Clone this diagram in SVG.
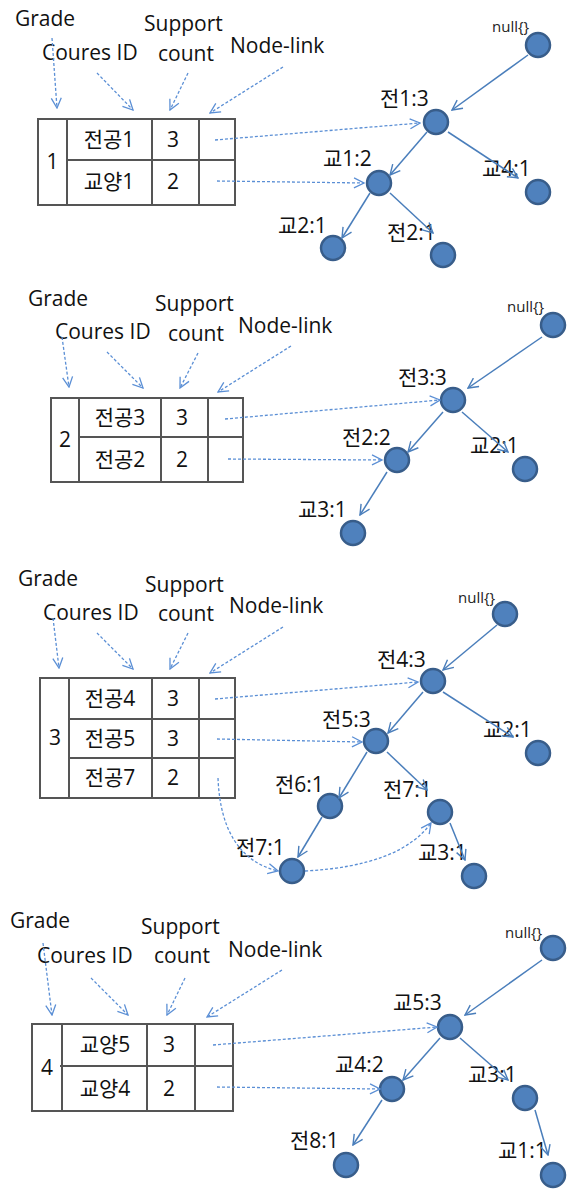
<svg xmlns="http://www.w3.org/2000/svg" width="570" height="1196" viewBox="0 0 570 1196">
<defs>
<marker id="ah" markerUnits="userSpaceOnUse" markerWidth="12" markerHeight="12" viewBox="0 0 12 12" refX="11" refY="6" orient="auto">
<path d="M1,1 L11,6 L1,11" fill="none" stroke="#4A7EBB" stroke-width="1.4"/>
</marker>
<marker id="ahd" markerUnits="userSpaceOnUse" markerWidth="12" markerHeight="12" viewBox="0 0 12 12" refX="11" refY="6" orient="auto">
<path d="M1,1 L11,6 L1,11" fill="none" stroke="#5B8FD5" stroke-width="1.3"/>
</marker>
</defs>
<style>
.lbl{font-family:"Open Sans","Noto Sans CJK KR",sans-serif;font-size:21px;fill:#111}
.cell{font-family:"Open Sans","Noto Sans CJK KR",sans-serif;font-size:21px;fill:#111;text-anchor:middle}
.nl{font-family:"Open Sans","Noto Sans CJK KR",sans-serif;font-size:15px;fill:#222}
.tbl{fill:none;stroke:#555;stroke-width:2}
.node{fill:#4F81BD;stroke:#385D8A;stroke-width:2.5}
.e{fill:none;stroke:#4A7EBB;stroke-width:1.5;marker-end:url(#ah)}
.d{fill:none;stroke:#5B8FD5;stroke-width:1.3;stroke-dasharray:3,2;marker-end:url(#ahd)}
</style>

<!-- Panel 1 -->
<g id="headers1">
<text class="lbl" x="15" y="26">Grade</text>
<text class="lbl" x="42" y="60">Coures ID</text>
<text class="lbl" x="144" y="31">Support</text>
<text class="lbl" x="158" y="61">count</text>
<text class="lbl" x="230" y="53">Node-link</text>
</g>
<g id="table1">
<rect class="tbl" x="38" y="119" width="197" height="86"/>
<line class="tbl" x1="67" y1="119" x2="67" y2="205"/>
<line class="tbl" x1="152" y1="119" x2="152" y2="205"/>
<line class="tbl" x1="199" y1="119" x2="199" y2="205"/>
<line class="tbl" x1="67" y1="160" x2="235" y2="160"/>
<text class="cell" x="52.5" y="169">1</text>
<text class="cell" x="109" y="147">전공1</text>
<text class="cell" x="173" y="147">3</text>
<text class="cell" x="109" y="189">교양1</text>
<text class="cell" x="173" y="189">2</text>
</g>
<g id="n1-null"><circle class="node" cx="538" cy="45" r="12"/><text class="nl" x="492" y="32">null{}</text></g>
<g id="n1-j13"><circle class="node" cx="436" cy="122" r="12"/><text class="lbl" x="380" y="106">전1:3</text></g>
<g id="n1-g12"><circle class="node" cx="379" cy="183" r="12"/><text class="lbl" x="323" y="166">교1:2</text></g>
<g id="n1-g41"><circle class="node" cx="538" cy="192" r="12"/><text class="lbl" x="482" y="176">교4:1</text></g>
<g id="n1-g21"><circle class="node" cx="333" cy="248" r="12"/><text class="lbl" x="278" y="233">교2:1</text></g>
<g id="n1-j21"><circle class="node" cx="443" cy="255" r="12"/><text class="lbl" x="387" y="240">전2:1</text></g>

<!-- Panel 2 -->
<g id="headers2">
<text class="lbl" x="28" y="306">Grade</text>
<text class="lbl" x="55" y="339">Coures ID</text>
<text class="lbl" x="155" y="311">Support</text>
<text class="lbl" x="168" y="341">count</text>
<text class="lbl" x="238" y="333">Node-link</text>
</g>
<g id="table2">
<rect class="tbl" x="51" y="398" width="192" height="84"/>
<line class="tbl" x1="79" y1="398" x2="79" y2="482"/>
<line class="tbl" x1="161" y1="398" x2="161" y2="482"/>
<line class="tbl" x1="208" y1="398" x2="208" y2="482"/>
<line class="tbl" x1="79" y1="437" x2="243" y2="437"/>
<text class="cell" x="65" y="447">2</text>
<text class="cell" x="120" y="425">전공3</text>
<text class="cell" x="182" y="425">3</text>
<text class="cell" x="120" y="467">전공2</text>
<text class="cell" x="182" y="467">2</text>
</g>
<g id="n2-null"><circle class="node" cx="553" cy="325" r="12"/><text class="nl" x="507" y="312">null{}</text></g>
<g id="n2-j33"><circle class="node" cx="453" cy="400" r="12"/><text class="lbl" x="398" y="385">전3:3</text></g>
<g id="n2-j22"><circle class="node" cx="397" cy="460" r="12"/><text class="lbl" x="342" y="445">전2:2</text></g>
<g id="n2-g21"><circle class="node" cx="525" cy="469" r="12"/><text class="lbl" x="470" y="453">교2:1</text></g>
<g id="n2-g31"><circle class="node" cx="353" cy="533" r="12"/><text class="lbl" x="298" y="517">교3:1</text></g>

<!-- Panel 3 -->
<g id="headers3">
<text class="lbl" x="18" y="586">Grade</text>
<text class="lbl" x="43" y="620">Coures ID</text>
<text class="lbl" x="145" y="592">Support</text>
<text class="lbl" x="158" y="621">count</text>
<text class="lbl" x="229" y="613">Node-link</text>
</g>
<g id="table3">
<rect class="tbl" x="40" y="678" width="195" height="120"/>
<line class="tbl" x1="69" y1="678" x2="69" y2="798"/>
<line class="tbl" x1="152" y1="678" x2="152" y2="798"/>
<line class="tbl" x1="199" y1="678" x2="199" y2="798"/>
<line class="tbl" x1="69" y1="719" x2="235" y2="719"/>
<line class="tbl" x1="69" y1="758" x2="235" y2="758"/>
<text class="cell" x="55" y="745">3</text>
<text class="cell" x="110" y="706">전공4</text>
<text class="cell" x="173" y="706">3</text>
<text class="cell" x="110" y="746">전공5</text>
<text class="cell" x="173" y="746">3</text>
<text class="cell" x="110" y="785">전공7</text>
<text class="cell" x="173" y="785">2</text>
</g>
<g id="n3-null"><circle class="node" cx="505" cy="614" r="12"/><text class="nl" x="458" y="603">null{}</text></g>
<g id="n3-j43"><circle class="node" cx="433" cy="681" r="12"/><text class="lbl" x="377" y="667">전4:3</text></g>
<g id="n3-j53"><circle class="node" cx="376" cy="741" r="12"/><text class="lbl" x="322" y="727">전5:3</text></g>
<g id="n3-g21"><circle class="node" cx="538" cy="753" r="12"/><text class="lbl" x="483" y="737">교2:1</text></g>
<g id="n3-j61"><circle class="node" cx="330" cy="806" r="12"/><text class="lbl" x="275" y="792">전6:1</text></g>
<g id="n3-j71a"><circle class="node" cx="440" cy="812" r="12"/><text class="lbl" x="383" y="797">전7:1</text></g>
<g id="n3-j71b"><circle class="node" cx="292" cy="871" r="12"/><text class="lbl" x="236" y="855">전7:1</text></g>
<g id="n3-g31"><circle class="node" cx="474" cy="876" r="12"/><text class="lbl" x="418" y="860">교3:1</text></g>

<!-- Panel 4 -->
<g id="headers4">
<text class="lbl" x="10" y="928">Grade</text>
<text class="lbl" x="37" y="963">Coures ID</text>
<text class="lbl" x="141" y="934">Support</text>
<text class="lbl" x="154" y="963">count</text>
<text class="lbl" x="228" y="957">Node-link</text>
</g>
<g id="table4">
<rect class="tbl" x="32" y="1024" width="201" height="87"/>
<line class="tbl" x1="62" y1="1024" x2="62" y2="1111"/>
<line class="tbl" x1="147" y1="1024" x2="147" y2="1111"/>
<line class="tbl" x1="195" y1="1024" x2="195" y2="1111"/>
<line class="tbl" x1="60" y1="1066" x2="233" y2="1066"/>
<text class="cell" x="47" y="1075">4</text>
<text class="cell" x="105" y="1052">교양5</text>
<text class="cell" x="169" y="1052">3</text>
<text class="cell" x="105" y="1096">교양4</text>
<text class="cell" x="169" y="1096">2</text>
</g>
<g id="n4-null"><circle class="node" cx="553" cy="948" r="12"/><text class="nl" x="505" y="938">null{}</text></g>
<g id="n4-g53"><circle class="node" cx="450" cy="1027" r="12"/><text class="lbl" x="393" y="1010">교5:3</text></g>
<g id="n4-g42"><circle class="node" cx="392" cy="1089" r="12"/><text class="lbl" x="335" y="1072">교4:2</text></g>
<g id="n4-g31"><circle class="node" cx="525" cy="1098" r="12"/><text class="lbl" x="468" y="1082">교3:1</text></g>
<g id="n4-j81"><circle class="node" cx="346" cy="1165" r="12"/><text class="lbl" x="290" y="1148">전8:1</text></g>
<g id="n4-g11"><circle class="node" cx="553" cy="1175" r="12"/><text class="lbl" x="498" y="1158">교1:1</text></g>

<g id="connectors">
<!-- panel 1 -->
<line class="d" x1="52" y1="38" x2="57" y2="108"/>
<line class="d" x1="97" y1="73" x2="133" y2="110"/>
<line class="d" x1="188" y1="73" x2="170" y2="110"/>
<line class="d" x1="283" y1="67" x2="210" y2="113"/>
<line class="d" x1="215" y1="140" x2="420" y2="123"/>
<line class="d" x1="217" y1="181" x2="364" y2="183"/>
<line class="e" x1="528" y1="55" x2="452" y2="110"/>
<line class="e" x1="427" y1="132" x2="390" y2="175"/>
<line class="e" x1="448" y1="132" x2="518" y2="178"/>
<line class="e" x1="370" y1="193" x2="342" y2="238"/>
<line class="e" x1="390" y1="193" x2="433" y2="233"/>
<!-- panel 2 -->
<line class="d" x1="62" y1="337" x2="69" y2="387"/>
<line class="d" x1="107" y1="352" x2="143" y2="388"/>
<line class="d" x1="198" y1="353" x2="180" y2="388"/>
<line class="d" x1="291" y1="346" x2="218" y2="392"/>
<line class="d" x1="225" y1="419" x2="440" y2="400"/>
<line class="d" x1="228" y1="459" x2="382" y2="460"/>
<line class="e" x1="542" y1="337" x2="468" y2="388"/>
<line class="e" x1="443" y1="412" x2="408" y2="452"/>
<line class="e" x1="462" y1="412" x2="508" y2="452"/>
<line class="e" x1="387" y1="472" x2="360" y2="515"/>
<!-- panel 3 -->
<line class="d" x1="53" y1="618" x2="59" y2="668"/>
<line class="d" x1="97" y1="633" x2="133" y2="669"/>
<line class="d" x1="188" y1="633" x2="170" y2="669"/>
<line class="d" x1="283" y1="627" x2="210" y2="673"/>
<line class="d" x1="215" y1="699" x2="418" y2="682"/>
<line class="d" x1="217" y1="739" x2="362" y2="742"/>
<path class="d" d="M218,778 C220,830 240,862 278,871"/>
<path class="d" d="M305,871 Q400,866 431,823"/>
<line class="e" x1="497" y1="625" x2="443" y2="670"/>
<line class="e" x1="423" y1="692" x2="388" y2="733"/>
<line class="e" x1="443" y1="692" x2="513" y2="737"/>
<line class="e" x1="367" y1="752" x2="339" y2="798"/>
<line class="e" x1="387" y1="752" x2="427" y2="790"/>
<line class="e" x1="322" y1="817" x2="298" y2="857"/>
<line class="e" x1="450" y1="823" x2="465" y2="860"/>
<!-- panel 4 -->
<line class="d" x1="43" y1="943" x2="52" y2="1015"/>
<line class="d" x1="91" y1="978" x2="128" y2="1015"/>
<line class="d" x1="185" y1="978" x2="167" y2="1015"/>
<line class="d" x1="282" y1="970" x2="207" y2="1017"/>
<line class="d" x1="213" y1="1045" x2="437" y2="1027"/>
<line class="d" x1="217" y1="1087" x2="380" y2="1089"/>
<line class="e" x1="542" y1="960" x2="465" y2="1015"/>
<line class="e" x1="440" y1="1038" x2="403" y2="1080"/>
<line class="e" x1="460" y1="1038" x2="508" y2="1080"/>
<line class="e" x1="382" y1="1100" x2="353" y2="1145"/>
<line class="e" x1="535" y1="1110" x2="548" y2="1155"/>
</g>
</svg>
